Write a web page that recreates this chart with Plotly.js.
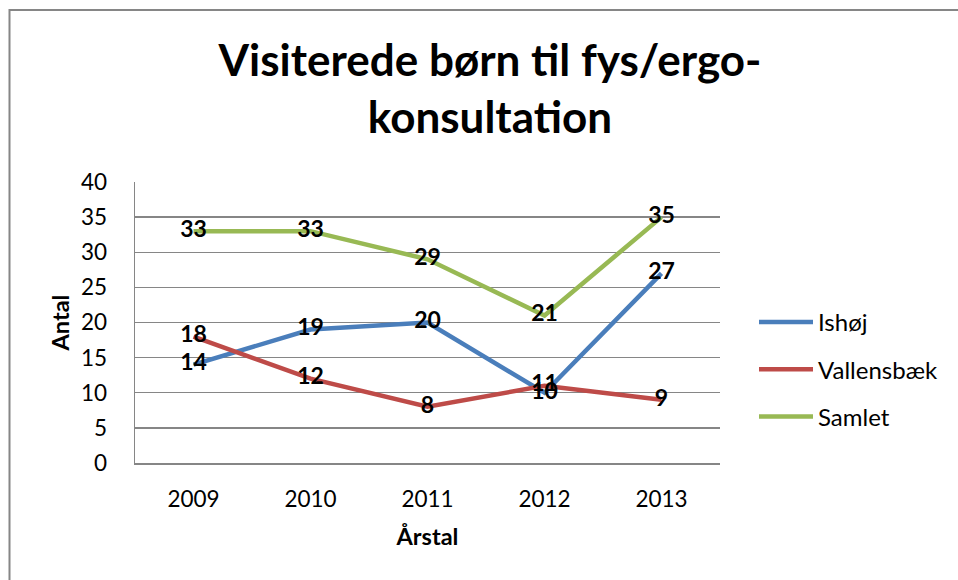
<!DOCTYPE html>
<html>
<head>
<meta charset="utf-8">
<script src="https://cdn.plot.ly/plotly-3.0.1.min.js"></script>
<style>
html,body{margin:0;padding:0;background:#fff;}
#chart{width:958px;height:580px;}
</style>
</head>
<body>
<div id="chart"></div>
<script>
const years = ["2009", "2010", "2011", "2012", "2013"];
const ishoej = [14, 19, 20, 10, 27];
const vallensbaek = [18, 12, 8, 11, 9];
const samlet = [33, 33, 29, 21, 35];
const seriesNames = ["Ishøj", "Vallensbæk", "Samlet"];
const yTicks = [0, 5, 10, 15, 20, 25, 30, 35, 40];

const colors = ["#4A7EBB", "#BE4B48", "#98B954"];
const FONT = "Lato, Carlito, Calibri, 'Liberation Sans', sans-serif";
const allSeries = [ishoej, vallensbaek, samlet];

const traces = [];
allSeries.forEach((vals, i) => {
  traces.push({
    x: years, y: vals, name: seriesNames[i], type: "scatter", mode: "lines",
    legendgroup: "g" + i,
    line: {color: colors[i], width: 4.5},
    hoverinfo: "skip"
  });
});
allSeries.forEach((vals, i) => {
  traces.push({
    x: years, y: vals, type: "scatter", mode: "text", showlegend: false,
    legendgroup: "g" + i,
    text: vals.map(String), textposition: "middle center",
    textfont: {family: FONT, size: 23, color: "#000", weight: "bold"},
    hoverinfo: "skip"
  });
});

const L = 135, R = 238, T = 182, B = 117;
const pw = 958 - L - R, ph = 580 - T - B;
const fx = (px) => (px - L) / pw;
const fy = (py) => 1 - (py - T) / ph;

const layout = {
  width: 958, height: 580,
  margin: {l: L, r: R, t: T, b: B, pad: 0},
  paper_bgcolor: "#fff", plot_bgcolor: "#fff",
  font: {family: FONT, size: 22, color: "#000"},
  title: {
    text: "<b>Visiterede børn til fys/ergo-<br>konsultation</b>",
    font: {family: FONT, size: 44, color: "#000"},
    x: 490 / 958, xanchor: "center", xref: "container",
    y: 1 - 76 / 580, yanchor: "top", yref: "container"
  },
  xaxis: {
    type: "category", range: [-0.5, 4.5],
    showgrid: false, showline: true, linecolor: "#868686", linewidth: 1.5,
    ticks: "", tickfont: {family: FONT, size: 22.5, color: "#000"},
    ticklabelstandoff: 15,
    title: {text: "<b>Årstal</b>", font: {family: FONT, size: 23.5, color: "#000"}, standoff: 18},
    fixedrange: true
  },
  yaxis: {
    range: [0, 40], tickvals: yTicks, ticktext: yTicks.map(String),
    showgrid: true, gridcolor: "#868686", gridwidth: 1.3,
    showline: true, linecolor: "#868686", linewidth: 1.5,
    zeroline: false, ticks: "",
    tickfont: {family: FONT, size: 22.5, color: "#000"},
    ticklabelstandoff: 22,
    title: {text: "<b>Antal</b>", font: {family: FONT, size: 23.5, color: "#000"}, standoff: 4},
    fixedrange: true
  },
  legend: {
    x: fx(754), y: fy(300), xanchor: "left", yanchor: "top",
    font: {family: FONT, size: 24, color: "#000"},
    bgcolor: "rgba(0,0,0,0)", itemwidth: 54,
    tracegroupgap: 13, traceorder: "grouped"
  },
  shapes: [{
    type: "path", xref: "paper", yref: "paper",
    path: "M" + fx(9.5) + "," + fy(600) + " L" + fx(9.5) + "," + fy(10) + " L" + fx(980) + "," + fy(10),
    line: {color: "#868686", width: 2}
  }],
  showlegend: true
};

Plotly.newPlot("chart", traces, layout, {displayModeBar: false, staticPlot: true});
</script>
</body>
</html>
